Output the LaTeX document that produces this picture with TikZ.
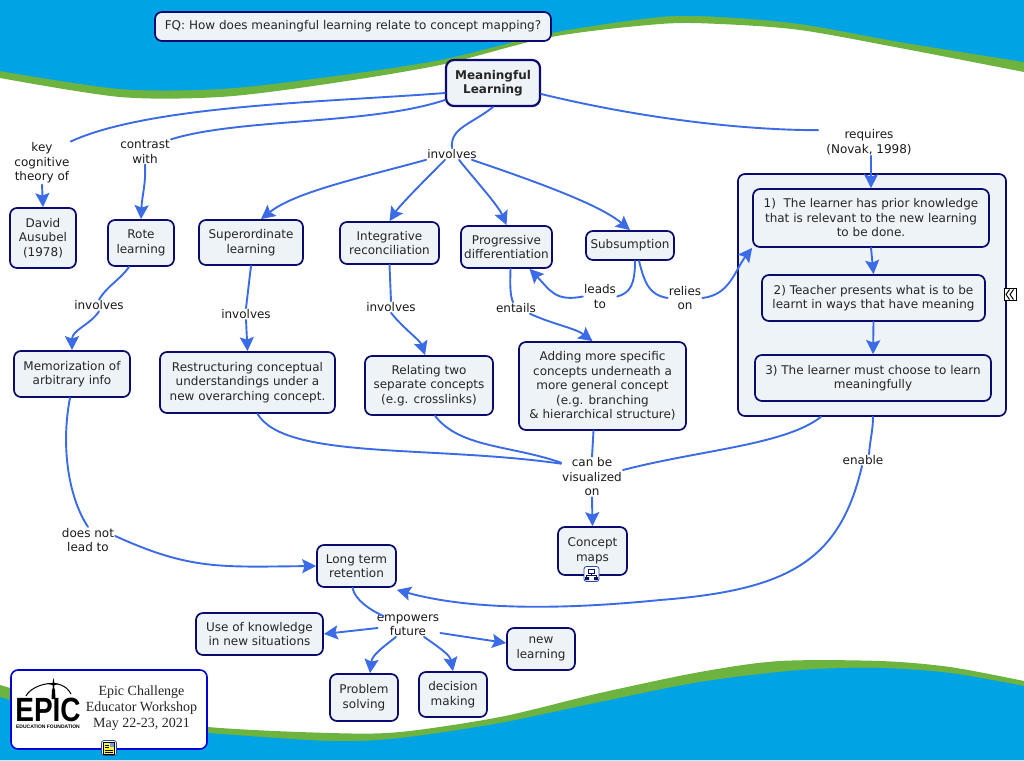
\documentclass[tikz,border=0pt]{standalone}
\usepackage{fontspec}
\setmainfont{DejaVu Sans}
\newfontfamily\epicfont{Liberation Serif}
\newfontfamily\logofont{Liberation Sans}
\usetikzlibrary{arrows.meta}
\definecolor{skyband}{HTML}{00A3E3}
\definecolor{grassband}{HTML}{6DB33F}
\definecolor{navyline}{HTML}{0B0B6F}
\definecolor{boxfill}{HTML}{EDF3F7}
\definecolor{linkblue}{HTML}{3B6BE6}
\tikzset{
	conc/.style={draw=navyline, fill=boxfill, line width=1.7pt, rounded corners=7pt, align=center, inner sep=0pt, text=black!85, font=\fontsize{12}{14.5}\selectfont},
	linkword/.style={align=center, inner sep=1pt, text=black!90, font=\fontsize{12}{14.5}\selectfont},
	link/.style={linkblue, line width=1.9pt, line cap=round},
	linkto/.style={link, -{Stealth[length=14pt,width=14pt,inset=2.5pt]}},
	badge/.style={draw=linkblue!70!black, fill=white, line width=.8pt, rounded corners=2.5pt, minimum size=15pt, inner sep=0pt},
}
\begin{document}
\begin{tikzpicture}[x=1pt,y=-1pt]
	\useasboundingbox (0,0) rectangle (1024,760);
	% waves
	\fill[grassband] plot[smooth] coordinates {(0,78) (120,97) (220,97) (320,85) (440,65) (551,37) (660,24) (720,24) (800,30) (900,48) (1024,72)} -- (1024,0) -- (0,0) -- cycle;
	\fill[skyband] plot[smooth] coordinates {(0,71) (120,89) (220,89) (320,78) (440,60) (551,33) (660,17) (720,17) (800,24) (900,42) (1024,62)} -- (1024,0) -- (0,0) -- cycle;
	\fill[grassband] plot[smooth] coordinates {(0,685) (100,712) (208,727) (330,733) (400,732) (500,717) (600,693) (700,672) (780,661) (880,661) (950,667) (1024,681)} -- (1024,760) -- (0,760) -- cycle;
	\fill[skyband] plot[smooth] coordinates {(0,697) (100,724) (208,733) (330,741) (400,738) (500,723) (600,702) (700,682) (800,670) (880,668) (950,673) (1024,686)} -- (1024,760) -- (0,760) -- cycle;
	% big box goes under its three children
	\node[conc, minimum width=268pt, minimum height=242pt] (bigbox) at (872,295) {};
	\foreach \nam/\x/\y/\w/\h/\txt in {
		fq/353/26.5/396/29/{FQ:\ How does meaningful learning relate to concept mapping?},
		ausubel/43/238/66/60/{David\\Ausubel\\(1978)},
		rote/141/243/66/46/{Rote\\learning},
		superord/251/242.5/104/45/{Superordinate\\learning},
		integr/389.5/243/99/42/{Integrative\\reconciliation},
		progr/506.5/247/91/42/{Progressive\\differentiation},
		subsum/630/245.5/88/29/{Subsumption},
		memo/72/374/116/46/{Memorization of\\arbitrary info},
		restruct/247.5/382.5/175/61/{Restructuring conceptual\\understandings under a\\new overarching concept.},
		relating/429/385.5/128/59/{Relating two\\separate concepts\\(e.g. crosslinks)},
		adding/602.5/386/167/88/{Adding more specific\\concepts underneath a\\more general concept\\(e.g. branching\\\& hierarchical structure)},
		learnone/871/218/236/58/{1)\ \ The learner has prior knowledge\\that is relevant to the new learning\\to be done.},
		learntwo/873.5/298/223/46/{2) Teacher presents what is to be\\learnt in ways that have meaning},
		learnthree/873/378/236/46/{3) The learner must choose to learn\\meaningfully},
		conmaps/592.5/551/69/48/{Concept\\maps},
		longterm/356.5/566/79/42/{Long term\\retention},
		useknow/259.5/634/127/42/{Use of knowledge\\in new situations},
		newlearn/541/649/68/42/{new\\learning},
		problem/364/697.5/68/47/{Problem\\solving},
		decision/453/694.5/68/45/{decision\\making}}
	\node[conc, minimum width=\w pt, minimum height=\h pt] (\nam) at (\x,\y) {\txt};
	\node[conc, font=\fontsize{12}{14.5}\selectfont\bfseries, minimum width=94pt, minimum height=46pt, line width=2.2pt, rounded corners=8pt] (meaning) at (493,83) {Meaningful\\Learning};
	% linking words
	\foreach \nam/\x/\y/\txt in {
		keyof/42/163/{key\\cognitive\\theory of},
		contrast/145/152/{contrast\\with},
		involvesall/452/154/{involves},
		requires/869/142/{requires\\(Novak, 1998)},
		involvesrote/99/305.5/{involves},
		involvessup/246/314/{involves},
		involvesint/391/307/{involves},
		entails/516/308/{entails},
		leadsto/600/296.5/{leads\\to},
		relieson/685/298/{relies\\on},
		canbe/592/477/{can be\\visualized\\on},
		enable/863/460/{enable},
		notlead/88/540/{does not\\lead to},
		empowers/408/625/{empowers\\future}}
	\node[linkword] (\nam) at (\x,\y) {\txt};
	% connectors
	\draw[link] ([yshift=-10pt]meaning.west) .. controls (330,102) and (150,105) .. (keyof.north east);
	\draw[link] ([yshift=-17pt]meaning.west) .. controls (370,125) and (240,118) .. (contrast.north east);
	\draw[link] (meaning.south) .. controls (470,125) and (450,128) .. (involvesall.north);
	\draw[link] ([yshift=-11pt]meaning.east) .. controls (640,118) and (740,130) .. ([xshift=-7pt,yshift=-2pt]requires.north west);
	\draw[linkto] (keyof.south) -- (ausubel.north);
	\draw[linkto] (contrast.south) .. controls (146,185) and (142,195) .. (rote.north);
	\draw[linkto] (involvesall.south west) .. controls (360,178) and (295,192) .. ([xshift=10pt]superord.north);
	\draw[linkto] ([xshift=-7pt]involvesall.south) .. controls (425,180) and (400,205) .. (integr.north);
	\draw[linkto] ([xshift=7pt]involvesall.south) .. controls (475,180) and (498,205) .. (progr.north);
	\draw[linkto] ([xshift=20pt]involvesall.south) .. controls (540,183) and (600,205) .. (subsum.north);
	\draw[linkto] ([xshift=2pt]requires.south) -- (learnone.north);
	\draw[linkto] (learnone.south) -- (learntwo.north);
	\draw[linkto] (learntwo.south) -- (learnthree.north);
	\draw[link] ([xshift=-12pt]rote.south) .. controls (120,280) and (108,285) .. (involvesrote.north);
	\draw[linkto] (involvesrote.south) .. controls (90,325) and (72,330) .. (memo.north);
	\draw[link] (superord.south) -- (involvessup.north);
	\draw[linkto] (involvessup.south) -- (restruct.north);
	\draw[link] (integr.south) -- (involvesint.north);
	\draw[linkto] (involvesint.south) .. controls (405,330) and (420,340) .. ([xshift=-4pt]relating.north);
	\draw[link] ([xshift=4pt]progr.south) .. controls (510,285) and (510,295) .. ([xshift=-3pt]entails.north);
	\draw[linkto] ([xshift=14pt]entails.south) .. controls (555,325) and (575,328) .. ([xshift=-10pt]adding.north);
	\draw[link] ([xshift=5pt]subsum.south) .. controls (635,285) and (630,293) .. (leadsto.east);
	\draw[linkto] (leadsto.west) .. controls (555,302) and (550,290) .. ([xshift=23pt]progr.south);
	\draw[link] ([xshift=9pt]subsum.south) .. controls (645,285) and (650,295) .. (relieson.west);
	\draw[linkto] (relieson.east) .. controls (730,295) and (735,270) .. (learnone.south west);
	\draw[link] ([xshift=10pt]restruct.south) .. controls (285,460) and (430,445) .. ([yshift=-7pt]canbe.north west);
	\draw[link] ([xshift=6pt]relating.south) .. controls (460,448) and (510,445) .. ([yshift=-6pt]canbe.north west);
	\draw[link] ([xshift=-9pt]adding.south) -- (canbe.north);
	\draw[link] ([xshift=-51pt]bigbox.south) .. controls (785,445) and (700,450) .. ([yshift=7pt]canbe.east);
	\draw[linkto] (canbe.south) -- (conmaps.north);
	\draw[link] ([xshift=1pt]bigbox.south) .. controls (873,430) and (870,440) .. ([xshift=6pt]enable.north);
	\draw[linkto] ([xshift=-1pt]enable.south) .. controls (840,560) and (790,590) .. (660,600) .. controls (560,610) and (470,610) .. ([yshift=-2pt]longterm.south east);
	\draw[link] ([xshift=-2pt]memo.south) .. controls (60,450) and (70,500) .. (notlead.north);
	\draw[linkto] ([yshift=4pt]notlead.east) .. controls (190,570) and (220,567) .. (longterm.west);
	\draw[link] ([xshift=-4pt]longterm.south) .. controls (355,600) and (370,610) .. ([xshift=8pt,yshift=-3pt]empowers.north west);
	\draw[linkto] ([xshift=2pt,yshift=-3pt]empowers.west) -- (useknow.east);
	\draw[linkto] ([xshift=-12pt]empowers.south) .. controls (382,648) and (372,655) .. ([xshift=6pt]problem.north);
	\draw[linkto] ([xshift=16pt]empowers.south) .. controls (440,648) and (450,655) .. (decision.north);
	\draw[linkto] ([yshift=-8pt]empowers.east) -- ([yshift=6pt]newlearn.west);
	% logo box
	\node[draw=blue!85!black, fill=white, line width=1.6pt, rounded corners=7pt, minimum width=196pt, minimum height=79pt] (epicbox) at (109,709.5) {};
	\node[align=center, inner sep=0pt, font=\epicfont\fontsize{14}{16.2}\selectfont, text=black!85] (epictext) at (141.5,708) {Epic Challenge\\Educator Workshop\\May 22-23, 2021};
	\node[inner sep=0pt, font=\logofont\bfseries\fontsize{28}{28}\selectfont] (logoword) at (48,710) {\scalebox{1}[1.2]{EPIC}};
	\node[inner sep=0pt, font=\logofont\bfseries\fontsize{5}{5}\selectfont] (logosub) at (48,726.5) {EDUCATION FOUNDATION};
	\draw[line width=1pt] (26,696) .. controls (32,684) and (62,676) .. (71,694);
	\fill (53.5,678) -- (54.5,683) -- (59,684) -- (54.5,685) -- (53.5,691) -- (52.5,685) -- (48,684) -- (52.5,683) -- cycle;
	\fill (51.5,699) -- (52,690) -- (53.5,686) -- (55,690) -- (55.5,699) -- cycle;
	% small icons
	\node[badge] (mapbadge) at (591.5,574) {};
	\draw[navyline, line width=.7pt] (588.5,569) rectangle (594.5,573) (591.5,573) -- (591.5,575) (586.5,575) -- (596.5,575) (586.5,575) -- (586.5,577) (596.5,575) -- (596.5,577);
	\fill[navyline] (585,577) rectangle (589,580) (594,577) rectangle (598,580);
	\node[badge] (notebadge) at (109,748) {};
	\fill[yellow!75!white, draw=black, line width=.6pt] (103.5,742) rectangle (114.5,754);
	\fill[linkblue!70] (110,743) rectangle (114,747);
	\draw[black, line width=.7pt] (105,745) -- (109,745) (105,747.5) -- (109,747.5) (105,750) -- (113,750) (105,752.5) -- (113,752.5);
	\node[draw=black, fill=white, line width=1pt, minimum size=12pt, inner sep=0pt] (collapse) at (1010,294.5) {};
	\draw[black, line width=1pt] (1009.5,289.5) -- (1006,294.5) -- (1009.5,299.5) (1013.5,289.5) -- (1010,294.5) -- (1013.5,299.5);
\end{tikzpicture}
\end{document}
